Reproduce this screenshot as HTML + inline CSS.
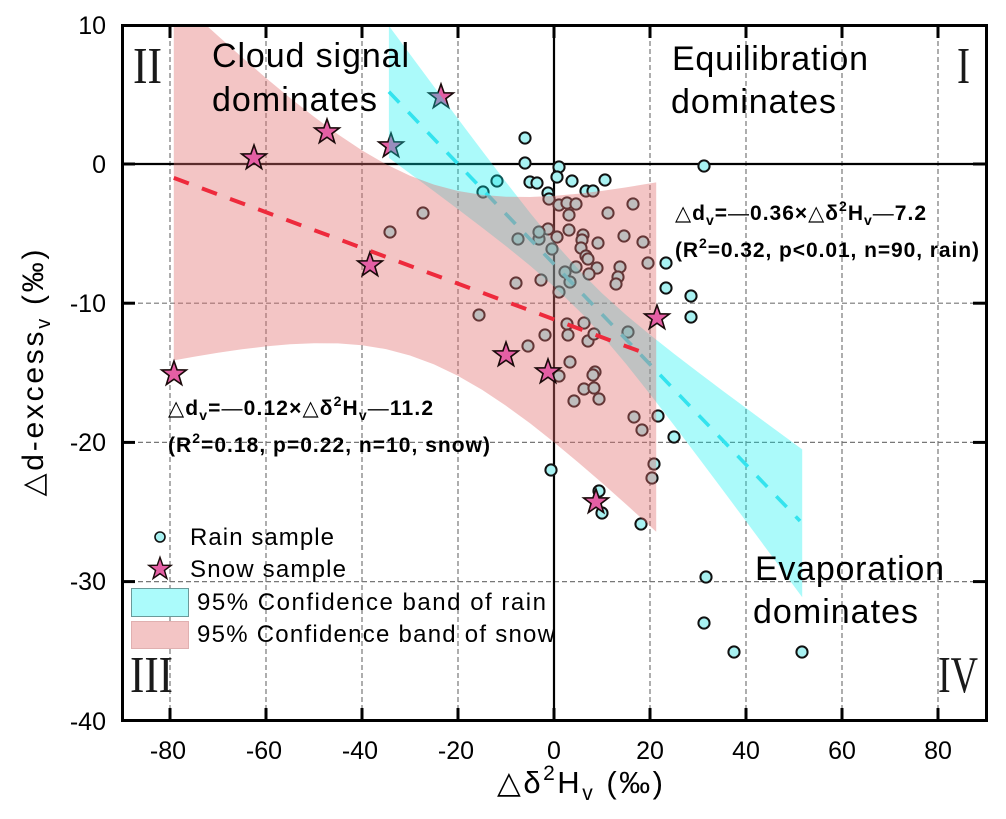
<!DOCTYPE html>
<html>
<head>
<meta charset="utf-8">
<style>
html,body{margin:0;padding:0;background:#ffffff;}
svg{display:block;}
text{font-family:"Liberation Sans","DejaVu Sans",sans-serif;fill:#000;}
.serif{font-family:"Liberation Serif","DejaVu Serif",serif;fill:#1a1a1a;}
</style>
</head>
<body>
<svg width="1006" height="819" viewBox="0 0 1006 819" xmlns="http://www.w3.org/2000/svg">
<defs>
  <clipPath id="plot"><rect x="122" y="25" width="864" height="696"/></clipPath>
  <path id="star" d="M0,-13 L3.06,-4.21 L12.36,-4.02 L4.95,1.61 L7.64,10.52 L0,5.2 L-7.64,10.52 L-4.95,1.61 L-12.36,-4.02 L-3.06,-4.21 Z" fill="#e45fa4" stroke="#1a0a0a" stroke-width="1.6" stroke-linejoin="miter"/>
</defs>
<rect x="0" y="0" width="1006" height="819" fill="#ffffff"/>

<g clip-path="url(#plot)">
  <!-- grid -->
  <g stroke="#777" stroke-width="1.2" stroke-dasharray="5 3" fill="none">
    <line x1="170" y1="25" x2="170" y2="721"/>
    <line x1="266" y1="25" x2="266" y2="721"/>
    <line x1="362" y1="25" x2="362" y2="721"/>
    <line x1="458" y1="25" x2="458" y2="721"/>
    <line x1="650" y1="25" x2="650" y2="721"/>
    <line x1="746" y1="25" x2="746" y2="721"/>
    <line x1="842" y1="25" x2="842" y2="721"/>
    <line x1="938" y1="25" x2="938" y2="721"/>
    <line x1="122" y1="303.2" x2="986" y2="303.2"/>
    <line x1="122" y1="442.4" x2="986" y2="442.4"/>
    <line x1="122" y1="581.6" x2="986" y2="581.6"/>
  </g>
  <!-- zero lines -->
  <line x1="122" y1="164" x2="986" y2="164" stroke="#000" stroke-width="2.2"/>
  <line x1="554" y1="25" x2="554" y2="721" stroke="#000" stroke-width="2.2"/>

  <!-- rain points -->
  <g fill="#a8f2f2" stroke="#111" stroke-width="2">
    <circle cx="525" cy="138" r="5.6"/><circle cx="525" cy="163" r="5.6"/>
    <circle cx="559" cy="167" r="5.6"/><circle cx="704" cy="166" r="5.6"/>
    <circle cx="557" cy="177" r="5.6"/><circle cx="530" cy="182" r="5.6"/>
    <circle cx="537" cy="183" r="5.6"/><circle cx="572" cy="181" r="5.6"/>
    <circle cx="605" cy="180" r="5.6"/><circle cx="586" cy="191" r="5.6"/>
    <circle cx="593" cy="191" r="5.6"/><circle cx="548" cy="193" r="5.6"/>
    <circle cx="549" cy="199" r="5.6"/><circle cx="559" cy="205" r="5.6"/>
    <circle cx="567" cy="203" r="5.6"/><circle cx="576" cy="204" r="5.6"/>
    <circle cx="569" cy="215" r="5.6"/><circle cx="633" cy="204" r="5.6"/>
    <circle cx="608" cy="213" r="5.6"/><circle cx="548" cy="229" r="5.6"/>
    <circle cx="569" cy="230" r="5.6"/><circle cx="557" cy="237" r="5.6"/>
    <circle cx="583" cy="235" r="5.6"/><circle cx="582" cy="240" r="5.6"/>
    <circle cx="598" cy="243" r="5.6"/><circle cx="624" cy="236" r="5.6"/>
    <circle cx="643" cy="242" r="5.6"/><circle cx="581" cy="248" r="5.6"/>
    <circle cx="586" cy="256" r="5.6"/><circle cx="588" cy="259" r="5.6"/>
    <circle cx="597" cy="268" r="5.6"/><circle cx="576" cy="267" r="5.6"/>
    <circle cx="565" cy="272" r="5.6"/><circle cx="589" cy="274" r="5.6"/>
    <circle cx="570" cy="282" r="5.6"/>
    <circle cx="620" cy="267" r="5.6"/><circle cx="618" cy="277" r="5.6"/>
    <circle cx="616" cy="284" r="5.6"/><circle cx="648" cy="263" r="5.6"/>
    <circle cx="666" cy="263" r="5.6"/><circle cx="666" cy="288" r="5.6"/>
    <circle cx="691" cy="296" r="5.6"/><circle cx="516" cy="283" r="5.6"/>
    <circle cx="541" cy="280" r="5.6"/><circle cx="559" cy="292" r="5.6"/>
    <circle cx="518" cy="239" r="5.6"/><circle cx="539" cy="239" r="5.6"/>
    <circle cx="539" cy="232" r="5.6"/><circle cx="552" cy="249" r="5.6"/>
    <circle cx="497" cy="181" r="5.6"/><circle cx="483" cy="192" r="5.6"/>
    <circle cx="423" cy="213" r="5.6"/><circle cx="390" cy="232" r="5.6"/>
    <circle cx="479" cy="315" r="5.6"/><circle cx="545" cy="335" r="5.6"/>
    <circle cx="528" cy="346" r="5.6"/><circle cx="567" cy="324" r="5.6"/>
    <circle cx="584" cy="323" r="5.6"/><circle cx="568" cy="335" r="5.6"/>
    <circle cx="588" cy="341" r="5.6"/><circle cx="594" cy="334" r="5.6"/>
    <circle cx="628" cy="332" r="5.6"/><circle cx="691" cy="317" r="5.6"/>
    <circle cx="570" cy="362" r="5.6"/><circle cx="559" cy="376" r="5.6"/>
    <circle cx="595" cy="372" r="5.6"/><circle cx="593" cy="375" r="5.6"/>
    <circle cx="584" cy="389" r="5.6"/><circle cx="594" cy="388" r="5.6"/>
    <circle cx="574" cy="401" r="5.6"/><circle cx="599" cy="399" r="5.6"/>
    <circle cx="634" cy="417" r="5.6"/><circle cx="642" cy="430" r="5.6"/>
    <circle cx="658" cy="416" r="5.6"/><circle cx="674" cy="437" r="5.6"/>
    <circle cx="551" cy="470" r="5.6"/><circle cx="654" cy="464" r="5.6"/>
    <circle cx="652" cy="478" r="5.6"/><circle cx="599" cy="491" r="5.6"/>
    <circle cx="602" cy="513" r="5.6"/><circle cx="641" cy="524" r="5.6"/>
    <circle cx="706" cy="577" r="5.6"/><circle cx="704" cy="623" r="5.6"/>
    <circle cx="734" cy="652" r="5.6"/><circle cx="802" cy="652" r="5.6"/>
  </g>

  <!-- stars that sit in cyan band (drawn beneath it) -->
  <use href="#star" x="391" y="146"/>
  <use href="#star" x="441" y="97"/>

  <!-- cyan band -->
  <path d="M388.9,25.9 L410,54.3 L434,86.6 L458,118.8 L482,150.6 L506,182.1 L530,212.7 L554,242.0 L582.8,274.1 L602,293.2 L626,314.9 L650,334.8 L674,353.7 L698,372.1 L722,390.2 L746,408.0 L770,425.8 L802.2,449.4 L802.2,597.2 L770,553.6 L746,521.3 L722,489.0 L698,457.0 L674,425.3 L650,394.1 L626,363.9 L602,335.5 L582.8,314.5 L554,286.5 L530,265.6 L506,246.1 L482,227.5 L458,209.2 L434,191.3 L410,173.5 L388.9,157.9 Z" fill="rgb(0,240,240)" fill-opacity="0.33"/>

  <!-- cyan fit line -->
  <line x1="388.9" y1="91.8" x2="800" y2="521" stroke="#33e3ee" stroke-width="3.6" stroke-dasharray="15 13"/>

  <!-- pink band -->
  <path d="M173.8,-4.6 L194,14.1 L218,35.9 L242,57.2 L266,78.0 L290,97.9 L314,116.8 L338,134.4 L362,150.4 L386,164.3 L410,175.7 L434,184.6 L458,191.0 L482,194.9 L506,196.7 L530,197.0 L554,195.9 L578,193.8 L602,190.9 L626,187.4 L656.2,182.4 L656.2,531.8 L626,504.2 L602,482.9 L578,462.2 L554,442.3 L530,423.3 L506,405.8 L482,389.8 L458,375.9 L434,364.4 L410,355.5 L386,349.1 L362,345.2 L338,343.4 L314,343.2 L290,344.3 L266,346.4 L242,349.3 L218,352.8 L194,356.8 L173.8,360.4 Z" fill="rgb(225,110,110)" fill-opacity="0.4"/>

  <!-- other snow stars -->
  <use href="#star" x="174" y="374"/>
  <use href="#star" x="254" y="158"/>
  <use href="#star" x="327" y="132"/>
  <use href="#star" x="370" y="265"/>
  <use href="#star" x="506" y="355"/>
  <use href="#star" x="548" y="372"/>
  <use href="#star" x="596" y="502"/>
  <use href="#star" x="657" y="318"/>

  <!-- red fit line -->
  <line x1="173.8" y1="177.9" x2="651" y2="355.5" stroke="#ee2a3c" stroke-width="4" stroke-dasharray="16 14"/>
</g>

<!-- frame -->
<rect x="122.5" y="25.5" width="864" height="695" fill="none" stroke="#000" stroke-width="3"/>
<!-- ticks -->
<g stroke="#000" stroke-width="3">
  <line x1="170" y1="721" x2="170" y2="708"/><line x1="266" y1="721" x2="266" y2="708"/>
  <line x1="362" y1="721" x2="362" y2="708"/><line x1="458" y1="721" x2="458" y2="708"/>
  <line x1="554" y1="721" x2="554" y2="708"/>
  <line x1="650" y1="721" x2="650" y2="708"/><line x1="746" y1="721" x2="746" y2="708"/>
  <line x1="842" y1="721" x2="842" y2="708"/><line x1="938" y1="721" x2="938" y2="708"/>
  <line x1="170" y1="25" x2="170" y2="38"/><line x1="266" y1="25" x2="266" y2="38"/>
  <line x1="362" y1="25" x2="362" y2="38"/><line x1="458" y1="25" x2="458" y2="38"/>
  <line x1="554" y1="25" x2="554" y2="38"/>
  <line x1="650" y1="25" x2="650" y2="38"/><line x1="746" y1="25" x2="746" y2="38"/>
  <line x1="842" y1="25" x2="842" y2="38"/><line x1="938" y1="25" x2="938" y2="38"/>
  <line x1="122" y1="164" x2="135" y2="164"/><line x1="122" y1="303.2" x2="135" y2="303.2"/>
  <line x1="122" y1="442.4" x2="135" y2="442.4"/><line x1="122" y1="581.6" x2="135" y2="581.6"/>
  <line x1="986" y1="164" x2="973" y2="164"/><line x1="986" y1="303.2" x2="973" y2="303.2"/>
  <line x1="986" y1="442.4" x2="973" y2="442.4"/><line x1="986" y1="581.6" x2="973" y2="581.6"/>
</g>

<!-- tick labels -->
<g font-size="25" text-anchor="end">
  <text x="106" y="34">10</text>
  <text x="106" y="173">0</text>
  <text x="106" y="312">-10</text>
  <text x="106" y="451">-20</text>
  <text x="106" y="590">-30</text>
  <text x="106" y="730">-40</text>
</g>
<g font-size="25" text-anchor="middle">
  <text x="168" y="759">-80</text>
  <text x="264" y="759">-60</text>
  <text x="360" y="759">-40</text>
  <text x="456" y="759">-20</text>
  <text x="554" y="759">0</text>
  <text x="650" y="759">20</text>
  <text x="746" y="759">40</text>
  <text x="842" y="759">60</text>
  <text x="938" y="759">80</text>
</g>

<!-- axis titles -->
<text x="497" y="793" font-size="31" textLength="166" lengthAdjust="spacing">△δ<tspan font-size="21" dy="-13">2</tspan><tspan dy="13">H</tspan><tspan font-size="21" dy="7">v</tspan><tspan dy="-7"> (‰)</tspan></text>
<text transform="translate(43,373) rotate(-90)" text-anchor="middle" font-size="30" textLength="247" lengthAdjust="spacing">△d-excess<tspan font-size="20" dy="7">v</tspan><tspan dy="-7"> (‰)</tspan></text>

<!-- region labels -->
<g font-size="34">
  <text x="212" y="67" textLength="197" lengthAdjust="spacing">Cloud signal</text>
  <text x="212" y="111" textLength="165" lengthAdjust="spacing">dominates</text>
  <text x="672" y="70" textLength="196" lengthAdjust="spacing">Equilibration</text>
  <text x="671" y="113" textLength="165" lengthAdjust="spacing">dominates</text>
  <text x="755" y="580" textLength="189" lengthAdjust="spacing">Evaporation</text>
  <text x="753" y="623" textLength="165" lengthAdjust="spacing">dominates</text>
</g>

<!-- roman numerals -->
<g class="serif" font-size="52">
  <text class="serif" x="133" y="83" textLength="29" lengthAdjust="spacingAndGlyphs">II</text>
  <text class="serif" x="957" y="83" textLength="13" lengthAdjust="spacingAndGlyphs">I</text>
  <text class="serif" x="130" y="692" textLength="43" lengthAdjust="spacingAndGlyphs">III</text>
  <text class="serif" x="938" y="692" textLength="40" lengthAdjust="spacingAndGlyphs">IV</text>
</g>

<!-- equations -->
<g font-size="21" font-weight="bold">
  <text x="675" y="220" textLength="251" lengthAdjust="spacing">△d<tspan font-size="14" dy="5">v</tspan><tspan dy="-5">=</tspan><tspan font-weight="normal">—</tspan>0.36×△δ<tspan font-size="14" dy="-9">2</tspan><tspan dy="9">H</tspan><tspan font-size="14" dy="5">v</tspan><tspan dy="-5" font-weight="normal">—</tspan>7.2</text>
  <text x="675" y="257" textLength="304" lengthAdjust="spacing">(R<tspan font-size="14" dy="-9">2</tspan><tspan dy="9">=0.32, p&lt;0.01, n=90, rain)</tspan></text>
  <text x="168" y="415" textLength="265" lengthAdjust="spacing">△d<tspan font-size="14" dy="5">v</tspan><tspan dy="-5">=</tspan><tspan font-weight="normal">—</tspan>0.12×△δ<tspan font-size="14" dy="-9">2</tspan><tspan dy="9">H</tspan><tspan font-size="14" dy="5">v</tspan><tspan dy="-5" font-weight="normal">—</tspan>11.2</text>
  <text x="168" y="452" textLength="322" lengthAdjust="spacing">(R<tspan font-size="14" dy="-9">2</tspan><tspan dy="9">=0.18, p=0.22, n=10, snow)</tspan></text>
</g>

<!-- legend -->
<circle cx="160" cy="537" r="5" fill="#a8f2f2" stroke="#111" stroke-width="1.6"/>
<g transform="translate(160,569) scale(0.9)"><use href="#star"/></g>
<rect x="131.5" y="588.5" width="57" height="28" fill="rgb(171,251,251)" stroke="#6a9a9a" stroke-width="1"/>
<rect x="131.5" y="621.5" width="57" height="27" fill="rgb(243,197,197)" stroke="#e0b0b0" stroke-width="1"/>
<g font-size="24">
  <text x="190" y="545" textLength="144" lengthAdjust="spacing">Rain sample</text>
  <text x="190" y="577" textLength="156" lengthAdjust="spacing">Snow sample</text>
  <text x="197" y="610" textLength="349" lengthAdjust="spacing">95% Confidence band of rain</text>
  <text x="197" y="642" textLength="358" lengthAdjust="spacing">95% Confidence band of snow</text>
</g>
</svg>
</body>
</html>
